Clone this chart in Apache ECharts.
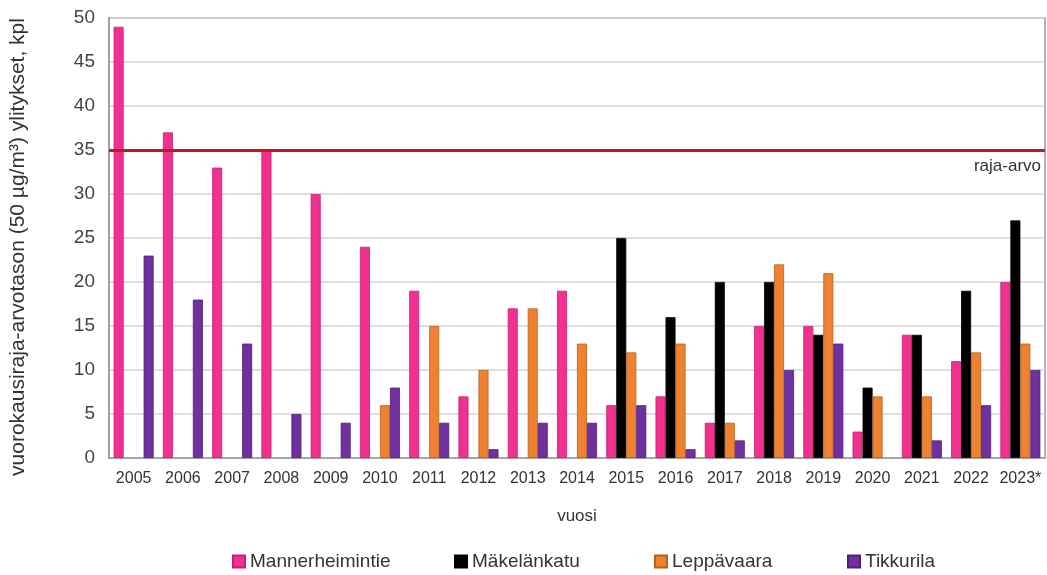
<!DOCTYPE html>
<html>
<head>
<meta charset="utf-8">
<script src="https://cdn.jsdelivr.net/npm/echarts@6/dist/echarts.min.js"></script>
<style>
html,body{margin:0;padding:0;background:#fff;}
#chart{width:1047px;height:575px;}
</style>
</head>
<body>
<div id="chart"></div>
<script>
const years = ['2005','2006','2007','2008','2009','2010','2011','2012','2013','2014','2015','2016','2017','2018','2019','2020','2021','2022','2023*'];
const mannerheimintie = [49,37,33,35,30,24,19,7,17,19,6,7,4,15,15,3,14,11,20];
const makelankatu = [null,null,null,null,null,null,null,null,null,null,25,16,20,20,14,8,14,19,27];
const leppavaara = [null,null,null,null,null,6,15,10,17,13,12,13,4,22,21,7,7,12,13];
const tikkurila = [23,18,13,5,4,8,4,1,4,4,6,1,2,10,13,null,2,6,10];
const limitValue = 35;
const yTicks = [0,5,10,15,20,25,30,35,40,45,50];
const seriesNames = ['Mannerheimintie','Mäkelänkatu','Leppävaara','Tikkurila'];

const chart = echarts.init(document.getElementById('chart'));
const font = 'Liberation Sans, Arial, sans-serif';
function bar(name, data, color, border) {
  return {
    name: name, type: 'bar', data: data, barWidth: 10, barGap: '0%',
    itemStyle: {color: color, borderColor: border, borderWidth: 0.8},
    emphasis: {disabled: true}
  };
}
const series = [
  bar(seriesNames[0], mannerheimintie, '#f0318f', '#c81e72'),
  bar(seriesNames[1], makelankatu, '#000000', '#000000'),
  bar(seriesNames[2], leppavaara, '#ef8231', '#b8601c'),
  bar(seriesNames[3], tikkurila, '#7030a0', '#4e1f73')
];
series[0].markLine = {
  symbol: 'none', silent: true,
  lineStyle: {color: '#c8161d', width: 3, type: 'solid'},
  label: {show: true, position: 'insideEndBottom', formatter: 'raja-arvo', color: '#333', fontSize: 17, fontFamily: font, distance: [4, 8]},
  data: [{yAxis: limitValue}]
};
const legendLefts = [227, 449, 649, 842];
const legends = seriesNames.map((n, i) => ({
  top: 547, left: legendLefts[i], itemWidth: 12, itemHeight: 12,
  icon: 'rect', itemGap: 0,
  textStyle: {fontSize: 19, color: '#333', fontFamily: font},
  data: [n]
}));

chart.setOption({
  animation: false,
  backgroundColor: '#fff',
  grid: {left: 108, right: 2, top: 18, bottom: 117, show: true, borderColor: '#999', borderWidth: 1.5},
  legend: legends,
  xAxis: {
    type: 'category', data: years,
    name: 'vuosi', nameLocation: 'middle', nameGap: 50,
    nameTextStyle: {fontSize: 17, color: '#333', fontFamily: font},
    axisLine: {lineStyle: {color: '#999', width: 1.5}},
    axisTick: {show: false},
    axisLabel: {fontSize: 16, color: '#333', fontFamily: font, margin: 13, interval: 0}
  },
  yAxis: {
    type: 'value', min: yTicks[0], max: yTicks[yTicks.length-1], interval: 5,
    name: 'vuorokausiraja-arvotason (50 µg/m³) ylitykset, kpl',
    nameLocation: 'middle', nameGap: 80,
    nameTextStyle: {fontSize: 21, color: '#333', fontFamily: font, padding: [0, 18, 0, 0]},
    axisLine: {show: true, lineStyle: {color: '#999', width: 1.5}},
    axisTick: {show: false},
    splitLine: {lineStyle: {color: '#d4d4d4', width: 1.5}},
    axisLabel: {fontSize: 19, color: '#444', fontFamily: font, margin: 14}
  },
  series: series
});
</script>
</body>
</html>
